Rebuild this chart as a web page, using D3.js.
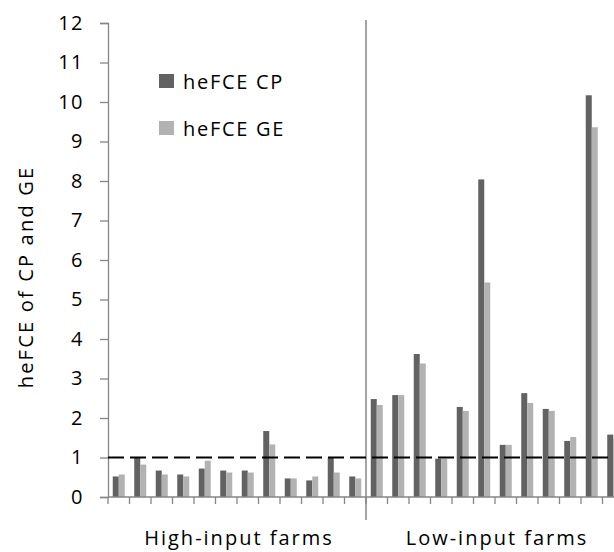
<!DOCTYPE html>
<html><head><meta charset="utf-8">
<script src="https://cdn.jsdelivr.net/npm/d3@7"></script>
<style>body{margin:0;background:#fff;overflow:hidden}svg{display:block}text{font-family:"Open Sans",Lato,sans-serif;fill:#000}</style>
</head><body>
<script>
const groups = ["High-input farms", "Low-input farms"];
const farmsPerGroup = 12;
const seriesNames = ["heFCE CP", "heFCE GE"];
const cpValues = [0.52,1.0,0.67,0.57,0.72,0.67,0.67,1.67,0.47,0.42,1.0,0.52,
                  2.48,2.58,3.62,0.97,2.28,8.04,1.32,2.63,2.23,1.42,10.17,1.58];
const geValues = [0.57,0.82,0.57,0.52,0.92,0.62,0.62,1.33,0.47,0.52,0.62,0.47,
                  2.33,2.58,3.38,0.97,2.18,5.43,1.32,2.38,2.18,1.52,9.36,1.47];
const yTicks = [0,1,2,3,4,5,6,7,8,9,10,11,12];
const refLine = 1;
const colors = ["#626262", "#b2b2b2"];

const W = 614, H = 552;
const svg = d3.select("body").append("svg").attr("width", W).attr("height", H);
const x0 = 108, xEnd = 624, yTop = 23, yBot = 497;
const n = cpValues.length;
const x = d3.scaleBand().domain(d3.range(n)).range([x0, xEnd]).paddingInner(0).paddingOuter(0);
const y = d3.scaleLinear().domain([0, 12]).range([yBot, yTop]);
const axisColor = "#868686";
const barW = 6;
const fs = 20;

// bars
const g = svg.append("g");
[cpValues, geValues].forEach((vals, s) => {
  g.selectAll(null).data(vals).enter().append("rect")
    .attr("x", (d, i) => x(i) + x.bandwidth() / 2 - barW + s * barW)
    .attr("width", barW)
    .attr("y", d => y(d))
    .attr("height", d => yBot - y(d))
    .attr("fill", colors[s]);
});

// y axis
const yAxis = d3.axisLeft(y).tickValues(yTicks).tickSize(8).tickPadding(16).tickFormat(d3.format("d"));
const ya = svg.append("g").attr("transform", `translate(${x0},0)`).call(yAxis);
ya.select(".domain").attr("stroke", axisColor).attr("stroke-width", 1.3);
ya.selectAll(".tick line").attr("stroke", axisColor).attr("stroke-width", 1.3);
ya.selectAll(".tick text").attr("font-size", fs).attr("font-family", "'Open Sans',sans-serif")
  .attr("fill", "#000").attr("letter-spacing", "1.5px");

// x axis (category boundaries)
const boundaries = d3.range(n + 1).map(i => i < n ? x(i) : x(n - 1) + x.bandwidth());
svg.append("line").attr("x1", x0).attr("x2", xEnd).attr("y1", yBot).attr("y2", yBot)
  .attr("stroke", axisColor).attr("stroke-width", 1.3);
svg.selectAll(null).data(boundaries).enter().append("line")
  .attr("x1", d => d).attr("x2", d => d).attr("y1", yBot).attr("y2", yBot + 7)
  .attr("stroke", axisColor).attr("stroke-width", 1.3);

// group divider
const divX = x(farmsPerGroup);
svg.append("line").attr("x1", divX).attr("x2", divX).attr("y1", y(12) - 3).attr("y2", 520)
  .attr("stroke", axisColor).attr("stroke-width", 1.5);

// group labels
groups.forEach((gname, k) => {
  const a = x(k * farmsPerGroup), b = k === 0 ? x(farmsPerGroup) : xEnd;
  svg.append("text").attr("x", (a + b) / 2 + 2).attr("y", 545).attr("text-anchor", "middle")
    .attr("font-size", fs).attr("letter-spacing", "2px").text(gname);
});

// reference dashed line
svg.append("line").attr("x1", x0).attr("x2", W).attr("y1", y(refLine)).attr("y2", y(refLine))
  .attr("stroke", "#000").attr("stroke-width", 2).attr("stroke-dasharray", "16,6");

// y title
svg.append("text").attr("transform", `translate(33,277) rotate(-90)`)
  .attr("text-anchor", "middle").attr("font-size", fs).attr("letter-spacing", "2.2px").text("heFCE of CP and GE");

// legend
seriesNames.forEach((s, i) => {
  const ly = 74 + i * 47;
  svg.append("rect").attr("x", 159).attr("y", ly).attr("width", 15).attr("height", 14).attr("fill", colors[i]);
  svg.append("text").attr("x", 183).attr("y", ly + 15).attr("font-size", fs)
    .attr("letter-spacing", "1.7px").text(s);
});
</script>
</body></html>
